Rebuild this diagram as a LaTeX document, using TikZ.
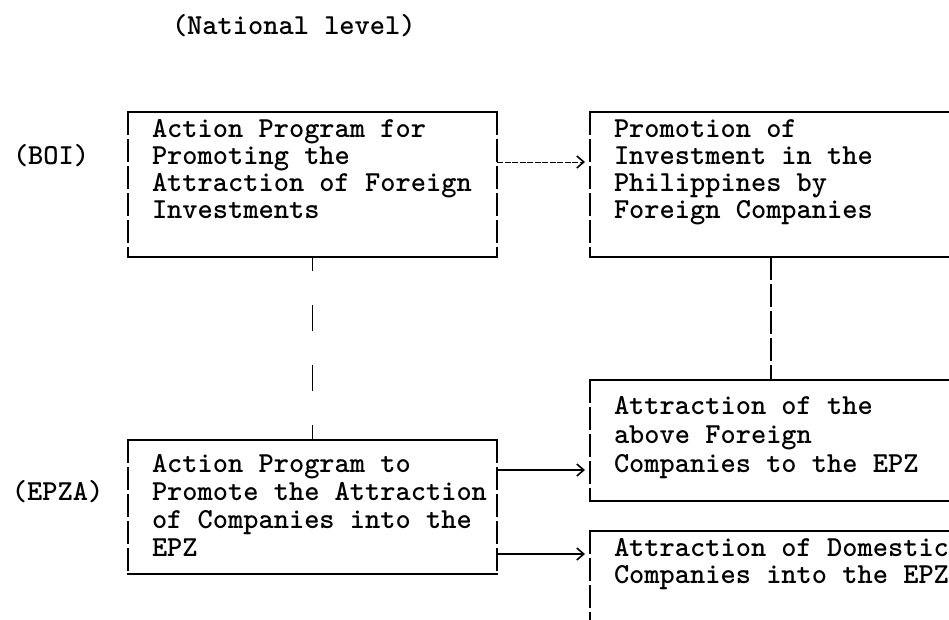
\documentclass[tikz,border=0pt]{standalone}
\usetikzlibrary{arrows.meta}
\begin{document}
\begin{tikzpicture}[x=1pt,y=-1pt,
  every node/.style={inner sep=0pt,outer sep=0pt},
  tw/.style={font=\fontsize{29}{30}\selectfont\ttfamily\bfseries, anchor=mid west},
  area/.style={anchor=north west, minimum width=#1},
  frame/.style={line width=1.6pt, line cap=rect},
  pipe/.style={line width=1.8pt, dash pattern=on 23pt off 4pt},
  rarepipe/.style={line width=1.8pt, dash pattern=on 26pt off 34pt, dash phase=12pt},
  feed/.style={line width=1.5pt, -{Straight Barb[length=7pt,width=12pt,line width=1.6pt]}, shorten >=5pt},
  lightfeed/.style={feed, line width=1pt, dash pattern=on 6pt off 1.5pt}
]
\useasboundingbox (0,0) rectangle (949,619);

% box outlines: solid top and bottom rules, typed pipes on the sides
\newcommand\typedbox[1]{%
  \draw[frame] (#1.north west) -- (#1.north east) (#1.south west) -- (#1.south east);
  \draw[pipe] (#1.north west) -- (#1.south west) (#1.north east) -- (#1.south east);}

% heading and row labels
\node[tw] (title) at (172,32) {(National level)};
\node[tw] (lblboi) at (13,162) {(BOI)};
\node[tw] (lblepza) at (12,498) {(EPZA)};

% boxes
\node[area=369pt, minimum height=145pt] (boi) at (128,112) {};
\node[area=362pt, minimum height=145pt] (promo) at (590,112) {};
\node[area=369pt, minimum height=134pt] (epza) at (128,440) {};
\node[area=362pt, minimum height=121pt] (forn) at (590,380) {};
\node[area=362pt, minimum height=150pt] (dom) at (590,531) {};

\typedbox{boi}
\typedbox{promo}
\typedbox{epza}
\typedbox{forn}
\typedbox{dom}

% box texts
\foreach \s [count=\i] in {Action Program for, Promoting the, Attraction of Foreign, Investments}
  \node[tw] (boi-\i) at (152,{135+27*(\i-1)}) {\s};
\foreach \s [count=\i] in {Promotion of, Investment in the, Philippines by, Foreign Companies}
  \node[tw] (promo-\i) at (614,{135+27*(\i-1)}) {\s};
\foreach \s [count=\i] in {Action Program to, Promote the Attraction, of Companies into the, EPZ}
  \node[tw] (epza-\i) at (152,{470+28*(\i-1)}) {\s};
\foreach \s [count=\i] in {Attraction of the, above Foreign, Companies to the EPZ}
  \node[tw] (forn-\i) at (614,{412+29*(\i-1)}) {\s};
\foreach \s [count=\i] in {Attraction of Domestic, Companies into the EPZ}
  \node[tw] (dom-\i) at (614,{554+27*(\i-1)}) {\s};

% connectors
\draw[lightfeed] (boi.east |- boi-2.mid) -- (promo.west |- boi-2.mid);
\draw[feed] (epza.east |- epza-1.mid) -- (forn.west |- epza-1.mid);
\draw[feed] (epza.east |- epza-4.mid) -- (dom.west |- epza-4.mid);
\draw[rarepipe] (boi.south) -- (epza.north);
\draw[pipe] (promo.south) -- (forn.north);
\end{tikzpicture}
\end{document}
